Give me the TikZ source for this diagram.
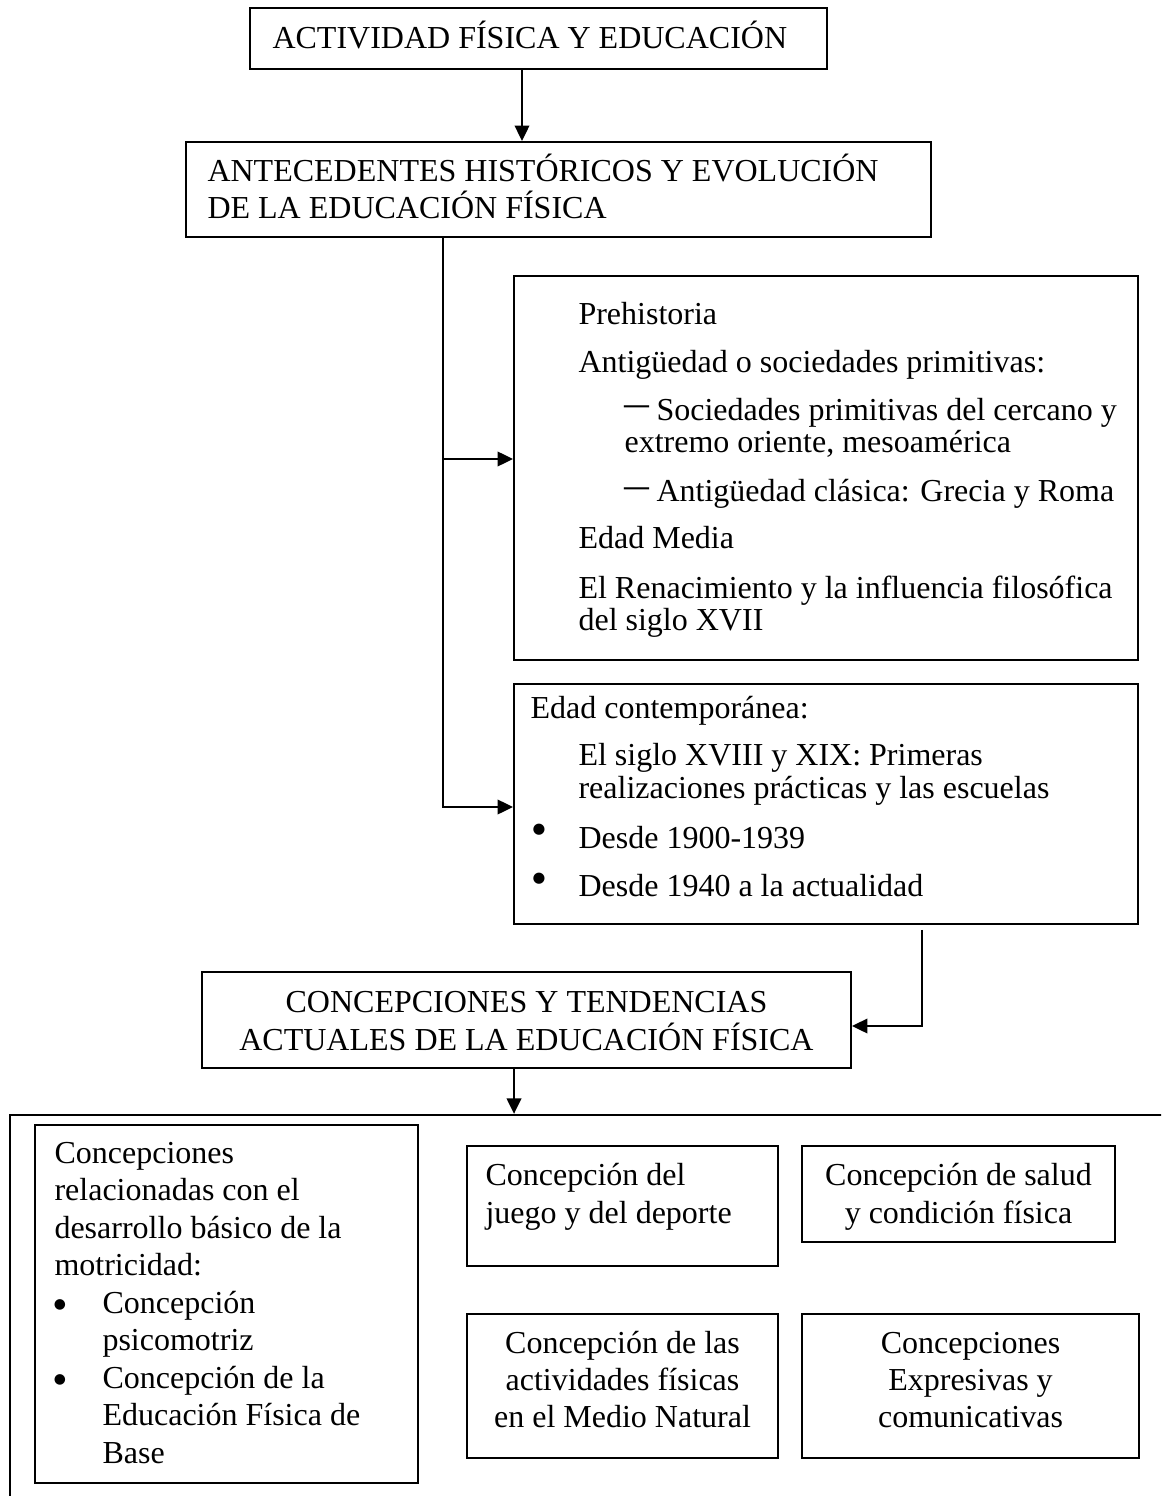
\documentclass[tikz,border=0pt]{standalone}
\usepackage{fontspec}
\setmainfont{Liberation Serif}
\newfontfamily\symfont{DejaVu Sans}
\usepackage{graphicx}
\usetikzlibrary{arrows.meta,fit}
\begin{document}
\begin{tikzpicture}[x=0.375pt, y=-0.375pt,
  box/.style={draw, line width=0.7pt, inner sep=0pt, rectangle},
  bigbox/.style={draw, line width=0.85pt, inner sep=0pt, rectangle},
  conn/.style={draw, line width=0.9pt},
  arr/.style={conn, -{Triangle[length=5.8pt,width=5.4pt]}},
  txt/.style={inner sep=0pt, anchor=base west, font=\fontsize{12pt}{14pt}\selectfont},
  ctxt/.style={txt, anchor=base},
  bul/.style={inner sep=0pt, anchor=center, font=\symfont\fontsize{5.5pt}{6pt}\selectfont},
  sbul/.style={bul, font=\symfont\fontsize{5.2pt}{5.5pt}\selectfont}]

\clip (0,0) rectangle (1161,1496);

% boxes
\node[box, fit={(250,8) (827,69)}] (box1) {};
\node[box, fit={(186,142) (931,237)}] (box2) {};
\node[box, fit={(514,276) (1138,660)}] (box3) {};
\node[box, fit={(514,684) (1138,924)}] (box4) {};
\node[box, fit={(202,972) (851,1068)}] (box5) {};
\node[bigbox, fit={(10,1115) (1250,1560)}] (big) {};
\node[box, fit={(35,1125) (418,1483)}] (bA) {};
\node[box, fit={(467,1146) (778,1266)}] (bB) {};
\node[box, fit={(802,1146) (1115,1242)}] (bC) {};
\node[box, fit={(467,1314) (778,1458)}] (bD) {};
\node[box, fit={(802,1314) (1139,1458)}] (bE) {};

% texts
\node[txt] (t1) at (272,49) {ACTIVIDAD FÍSICA Y EDUCACIÓN};

\node[txt] (t2a) at (207,182) {ANTECEDENTES HISTÓRICOS Y EVOLUCIÓN};
\node[txt] (t2b) at (207,219) {DE LA EDUCACIÓN FÍSICA};

\node[txt] (t3a) at (578,325) {Prehistoria};
\node[txt] (t3b) at (578,373) {Antigüedad o sociedades primitivas:};
\node[txt] (d3c) at (624,417) {\scalebox{0.78}[1.3]{—}};
\node[txt] (t3c) at (656,421) {Sociedades primitivas del cercano y};
\node[txt] (t3d) at (624,453) {extremo oriente, mesoamérica};
\node[txt] (d3e) at (624,498) {\scalebox{0.78}[1.3]{—}};
\node[txt] (t3e) at (656,502) {Antigüedad clásica: Grecia y Roma};
\node[txt] (t3f) at (578,549) {Edad Media};
\node[txt] (t3g) at (578,598) {El Renacimiento y la influencia filosófica};
\node[txt] (t3h) at (578,630) {del siglo XVII};

\node[txt] (t4a) at (530,718) {Edad contemporánea:};
\node[txt] (t4b) at (578,765) {El siglo XVIII y XIX: Primeras};
\node[txt] (t4c) at (578,798) {realizaciones prácticas y las escuelas};
\node[bul] (u4d) at (539,830) {●};
\node[txt] (t4d) at (578,848) {Desde 1900-1939};
\node[bul] (u4e) at (539,879) {●};
\node[txt] (t4e) at (578,896) {Desde 1940 a la actualidad};

\node[ctxt] (t5a) at (526.5,1012) {CONCEPCIONES Y TENDENCIAS};
\node[ctxt] (t5b) at (526.5,1050) {ACTUALES DE LA EDUCACIÓN FÍSICA};

\node[txt] (tAa) at (54,1163) {Concepciones};
\node[txt] (tAb) at (54,1200.5) {relacionadas con el};
\node[txt] (tAc) at (54,1238) {desarrollo básico de la};
\node[txt] (tAd) at (54,1275.5) {motricidad:};
\node[sbul] (uAe) at (60,1305) {●};
\node[txt] (tAe) at (102,1313) {Concepción};
\node[txt] (tAf) at (102,1350.5) {psicomotriz};
\node[sbul] (uAg) at (60,1380) {●};
\node[txt] (tAg) at (102,1388) {Concepción de la};
\node[txt] (tAh) at (102,1425.5) {Educación Física de};
\node[txt] (tAi) at (102,1463) {Base};

\node[txt] (tBa) at (485,1185) {Concepción del};
\node[txt] (tBb) at (485,1223) {juego y del deporte};

\node[ctxt] (tCa) at (958.5,1185) {Concepción de salud};
\node[ctxt] (tCb) at (958.5,1223) {y condición física};

\node[ctxt] (tDa) at (622.5,1353) {Concepción de las};
\node[ctxt] (tDb) at (622.5,1390) {actividades físicas};
\node[ctxt] (tDc) at (622.5,1427) {en el Medio Natural};

\node[ctxt] (tEa) at (970.5,1353) {Concepciones};
\node[ctxt] (tEb) at (970.5,1390) {Expresivas y};
\node[ctxt] (tEc) at (970.5,1427) {comunicativas};

% connectors
\path (box1.south) ++(-16.5,0) coordinate (a1);
\draw[arr] (a1) -- (a1 |- box2.north);

\path (box2.south) ++(-115.5,0) coordinate (v);
\coordinate (b3in) at ([yshift=3.375pt]box3.west);
\coordinate (b4in) at ([yshift=-1.125pt]box4.west);
\draw[arr] (v) |- (b4in);
\draw[arr] (v |- b3in) -- (b3in);

\path (box4.south) ++(96,5) coordinate (b4);
\coordinate (b5in) at ([yshift=-2.25pt]box5.east);
\draw[arr] (b4) |- (b5in);

\path (box5.south) ++(-12.5,0) coordinate (a5);
\draw[arr] (a5) -- (a5 |- big.north);
\end{tikzpicture}
\end{document}
